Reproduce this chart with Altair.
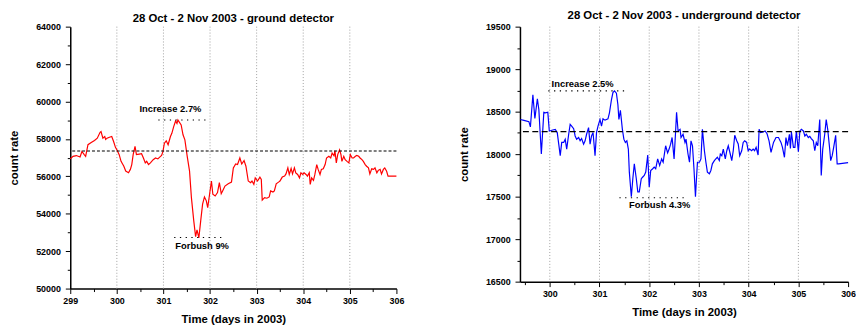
import math
import altair as alt
import pandas as pd

# ---------------- ground detector ----------------
ground_day = [299.00, 299.06, 299.13, 299.21, 299.25, 299.30, 299.33, 299.38, 299.45, 299.52,
              299.58, 299.64, 299.66, 299.70, 299.74, 299.76, 299.79, 299.84, 299.89, 299.93,
              299.97, 300.00, 300.05, 300.09, 300.15, 300.19, 300.25, 300.29, 300.32, 300.35,
              300.39, 300.42, 300.48, 300.53, 300.57, 300.61, 300.64, 300.68, 300.72, 300.78,
              300.83, 300.88, 300.92, 300.96, 300.99, 301.02, 301.06, 301.10, 301.15, 301.18,
              301.22, 301.26, 301.29, 301.31, 301.34, 301.38, 301.42, 301.46, 301.51, 301.56,
              301.60, 301.65, 301.69, 301.72, 301.76, 301.80, 301.84, 301.88, 301.92, 301.95,
              301.99, 302.03, 302.06, 302.11, 302.16, 302.20, 302.24, 302.27, 302.32, 302.39,
              302.46, 302.50, 302.55, 302.59, 302.64, 302.68, 302.73, 302.77, 302.82, 302.87,
              302.90, 302.94, 302.97, 303.02, 303.07, 303.10, 303.12, 303.17, 303.22, 303.27,
              303.30, 303.35, 303.38, 303.42, 303.47, 303.50, 303.55, 303.60, 303.63, 303.67,
              303.70, 303.74, 303.77, 303.81, 303.84, 303.88, 303.92, 303.95, 303.99, 304.02,
              304.06, 304.09, 304.13, 304.15, 304.18, 304.22, 304.25, 304.29, 304.32, 304.36,
              304.39, 304.43, 304.47, 304.50, 304.55, 304.59, 304.62, 304.66, 304.68, 304.71,
              304.74, 304.78, 304.81, 304.83, 304.87, 304.90, 304.94, 304.98, 305.01, 305.05,
              305.08, 305.12, 305.15, 305.19, 305.22, 305.26, 305.29, 305.33, 305.36, 305.40,
              305.43, 305.47, 305.51, 305.54, 305.58, 305.61, 305.65, 305.68, 305.72, 305.75,
              305.79, 305.82, 306.00]
ground_rate = [56930, 57070, 57110, 57030, 57330, 57160, 57070, 57690, 57810, 57920,
               58040, 58350, 58390, 58040, 58130, 57970, 58040, 58090, 58130, 57860,
               57550, 57420, 57160, 56800, 56540, 56280, 56190, 56370, 56630, 57160,
               57600, 57160, 57190, 57210, 56980, 56720, 56800, 56630, 56720, 56890,
               56980, 56930, 57030, 57120, 57330, 57770, 57900, 57690, 58130, 58300,
               58660, 58960, 58830, 59010, 58900, 58750, 58220, 57950, 57070, 56280,
               54860, 53630, 52780, 53140, 52710, 53630, 54510, 54900, 54690, 54330,
               55040, 55750, 55040, 54950, 55130, 55660, 55070, 55220, 55480, 55600,
               55690, 56450, 56660, 56630, 56980, 56660, 56840, 56540, 55750, 55660,
               55750, 55570, 55920, 55750, 55960, 55830, 54730, 54860, 54830, 54900,
               55220, 55160, 55220, 55600, 55690, 55750, 55960, 56010, 56130, 56450,
               56100, 56420, 56130, 56450, 56180, 56100, 55920, 56190, 56100, 56190,
               56100, 56010, 56190, 55570, 55920, 55780, 56100, 56630, 56370, 56100,
               56370, 56400, 56630, 56980, 57070, 56980, 57240, 57100, 57370, 56720,
               57160, 57420, 57160, 56800, 57070, 56890, 56800, 56720, 57160, 56980,
               56980, 57070, 57120, 57070, 56980, 56890, 56800, 56630, 56540, 56450,
               56130, 56400, 56370, 56450, 56190, 56320, 56370, 56130, 56370, 56450,
               56270, 56010, 56010]
ground_mean = 57350
ground_marks_day = [300.89, 301.93, 301.23, 302.27]   # start/end of increase, start/end of forbush
ground_marks_rate = [59010, 52730]
ground_labels = ["Increase 2.7%", "Forbush 9%"]
ground_label_day = [301.15, 301.83]
ground_label_rate = [59600, 52250]

# ---------------- underground detector ----------------
under_day = [299.41, 299.48, 299.58, 299.61, 299.66, 299.70, 299.75, 299.78, 299.83, 299.88,
             299.91, 299.96, 299.99, 300.06, 300.11, 300.15, 300.18, 300.21, 300.24, 300.28,
             300.31, 300.34, 300.38, 300.41, 300.44, 300.48, 300.51, 300.54, 300.58, 300.61,
             300.64, 300.68, 300.71, 300.74, 300.78, 300.81, 300.84, 300.87, 300.91, 300.94,
             300.97, 301.01, 301.04, 301.07, 301.11, 301.14, 301.17, 301.20, 301.24, 301.27,
             301.30, 301.34, 301.37, 301.39, 301.42, 301.46, 301.49, 301.52, 301.55, 301.58,
             301.60, 301.64, 301.67, 301.70, 301.74, 301.77, 301.80, 301.84, 301.87, 301.90,
             301.93, 301.97, 302.00, 302.03, 302.07, 302.10, 302.13, 302.17, 302.21, 302.25,
             302.28, 302.31, 302.33, 302.37, 302.40, 302.43, 302.46, 302.50, 302.53, 302.55,
             302.58, 302.62, 302.64, 302.68, 302.72, 302.74, 302.78, 302.81, 302.84, 302.87,
             302.90, 302.93, 302.95, 302.97, 303.01, 303.04, 303.07, 303.11, 303.14, 303.17,
             303.21, 303.24, 303.27, 303.31, 303.34, 303.37, 303.41, 303.43, 303.46, 303.49,
             303.53, 303.56, 303.59, 303.63, 303.66, 303.69, 303.72, 303.76, 303.79, 303.82,
             303.86, 303.89, 303.92, 303.96, 303.99, 304.02, 304.06, 304.09, 304.12, 304.15,
             304.19, 304.21, 304.24, 304.29, 304.33, 304.37, 304.41, 304.45, 304.50, 304.55,
             304.60, 304.65, 304.68, 304.72, 304.75, 304.78, 304.82, 304.84, 304.86, 304.90,
             304.93, 304.96, 305.00, 305.03, 305.06, 305.10, 305.13, 305.16, 305.20, 305.23,
             305.26, 305.30, 305.33, 305.36, 305.39, 305.43, 305.46, 305.49, 305.53, 305.56,
             305.59, 305.63, 305.65, 305.68, 305.71, 305.75, 305.78, 305.81, 306.00]
under_rate = [18408, 18397, 18382, 18320, 18699, 18420, 18650, 18524, 18002, 18493,
              18486, 18493, 18273, 18284, 18292, 18254, 18118, 17982, 18138, 18138,
              18176, 18060, 18234, 18350, 18330, 18300, 18214, 18176, 18196, 18157,
              18184, 18118, 18157, 18234, 18312, 18118, 18214, 18254, 17982, 18254,
              18330, 18408, 18330, 18416, 18400, 18408, 18416, 18486, 18640, 18725,
              18745, 18718, 18582, 18408, 18516, 18292, 18176, 18138, 18157, 18060,
              17789, 17499, 17711, 17886, 17711, 17556, 17556, 17711, 17731, 17750,
              17789, 17990, 17615, 17808, 17828, 17847, 17828, 17944, 17866, 17944,
              17905, 18021, 18099, 18014, 18060, 18118, 18196, 17944, 18261, 18493,
              18273, 18292, 18196, 18234, 18138, 18176, 18002, 17905, 18157, 18099,
              17828, 17499, 17711, 17905, 17905, 17944, 18292, 18040, 17905, 17789,
              17770, 17808, 17886, 17924, 17944, 17963, 17924, 18002, 17982, 18060,
              17944, 18040, 18099, 18002, 17924, 18040, 18222, 18157, 18120, 17982,
              18040, 18138, 18157, 18138, 18040, 18060, 18040, 18060, 18040, 18080,
              17990, 18292, 18254, 18261, 18273, 18240, 18157, 18021, 18138, 18196,
              18196, 18138, 18080, 17963, 18196, 18099, 18234, 18068, 18261, 18080,
              18080, 18273, 18029, 18273, 18292, 18273, 18214, 18234, 18196, 18210,
              18184, 18157, 18040, 18138, 18099, 18408, 17750, 18060, 18234, 18408,
              18292, 18060, 17924, 17982, 18080, 18222, 17886, 17886, 17900]
under_mean = 18265
under_marks_day = [299.97, 301.56, 301.40, 302.77]
under_marks_rate = [18745, 17487]
under_labels = ["Increase 2.5%", "Forbush 4.3%"]
under_label_day = [300.66, 302.21]
under_label_rate = [18823, 17401]

grid_days = [300, 301, 302, 303, 304, 305]

FONT = "Liberation Sans"


def panel(days, rates, mean, marks_day, marks_rate, labels, label_day, label_rate,
          xdom, ydom, ystep, ymajor, color, mean_dash, title, width, height, title_offset):
    xvals = [v / 2 for v in range(math.ceil(xdom[0] * 2), int(xdom[1] * 2) + 1)]
    yvals = list(range(ydom[0], ydom[1] + 1, ystep))
    x_axis = alt.Axis(
        values=xvals,
        labelExpr="datum.value % 1 === 0 ? format(datum.value, 'd') : ''",
        tickSize={"condition": {"test": "datum.value % 1 !== 0", "value": 3}, "value": 5},
        title="Time (days in 2003)", titlePadding=8, labelPadding=3, grid=False,
        labelFlush=False, labelOverlap=False,
    )
    y_axis = alt.Axis(
        values=yvals,
        labelExpr=f"datum.value % {ymajor} === 0 ? format(datum.value, 'd') : ''",
        tickSize={"condition": {"test": f"datum.value % {ymajor} !== 0", "value": 3}, "value": 5},
        title="count rate", titlePadding=16, labelPadding=5, grid=False,
        labelFlush=False, labelOverlap=False,
    )
    xs = alt.Scale(domain=xdom, nice=False, zero=False)
    ys = alt.Scale(domain=list(ydom), nice=False, zero=False)

    def X(f):
        return alt.X(f, type="quantitative", scale=xs, axis=x_axis)

    def Y(f):
        return alt.Y(f, type="quantitative", scale=ys, axis=y_axis)

    df = pd.DataFrame({"day": days, "rate": rates})
    grid = alt.Chart(pd.DataFrame({"day": grid_days})).mark_rule(
        color="#a0a0a0", strokeDash=[1, 2], strokeWidth=1).encode(x=X("day"))
    line = alt.Chart(df).mark_line(color=color, strokeWidth=1.2).encode(x=X("day"), y=Y("rate"))
    mean_rule = alt.Chart(pd.DataFrame({"rate": [mean]})).mark_rule(
        color="black", strokeDash=mean_dash, strokeWidth=1.1).encode(y=Y("rate"))
    mdf = pd.DataFrame({"day": [marks_day[0], marks_day[2]], "day2": [marks_day[1], marks_day[3]],
                        "rate": marks_rate})
    marks = alt.Chart(mdf).mark_rule(color="black", strokeDash=[1.3, 4.5], strokeWidth=1.2).encode(
        x=X("day"), x2="day2", y=Y("rate"))
    tdf = pd.DataFrame({"day": label_day, "rate": label_rate, "label": labels})
    texts = alt.Chart(tdf).mark_text(font=FONT, fontSize=9.5, fontWeight="bold", color="black",
                                     baseline="middle", align="center").encode(
        x=X("day"), y=Y("rate"), text="label:N")
    return alt.layer(grid, line, mean_rule, marks, texts).properties(
        width=width, height=height, title=alt.TitleParams(title, offset=title_offset))


left = panel(ground_day, ground_rate, ground_mean, ground_marks_day, ground_marks_rate,
             ground_labels, ground_label_day, ground_label_rate,
             [299, 306], (50000, 64000), 1000, 2000, "#ff0000", [3, 2],
             "28 Oct - 2 Nov 2003 - ground detector", 330, 265, -2)
right = panel(under_day, under_rate, under_mean, under_marks_day, under_marks_rate,
              under_labels, under_label_day, under_label_rate,
              [299.4, 306], (16500, 19500), 250, 500, "#0000ff", [6, 3.5],
              "28 Oct - 2 Nov 2003 - underground detector", 332, 258, 1)

chart = alt.hconcat(left, right, spacing=54).properties(
    padding={"left": 0, "top": 0, "right": 0, "bottom": 0}
).configure_view(stroke=None).configure_axis(
    labelFont=FONT, labelFontSize=9, labelFontWeight="bold", labelColor="black",
    titleFont=FONT, titleFontSize=11.5, titleFontWeight="bold", titleColor="black",
    domainColor="black", domainWidth=1.5, tickColor="black", tickWidth=1,
).configure_title(font=FONT, fontSize=11.5, fontWeight="bold", color="black", anchor="middle")

chart.save("out.html", embed_options={"renderer": "svg", "actions": False})
